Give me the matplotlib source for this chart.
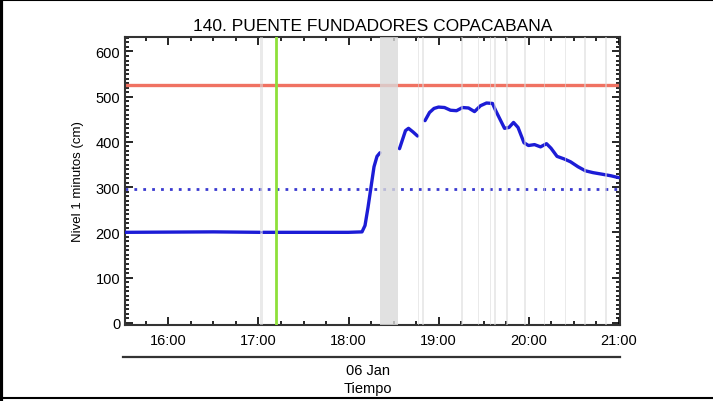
import numpy as np
import matplotlib
matplotlib.use('Agg')
import matplotlib.pyplot as plt
import matplotlib.dates as mdates
from matplotlib.ticker import MultipleLocator
from matplotlib.lines import Line2D
import pandas as pd

plt.rcParams['font.family'] = ['Liberation Sans', 'DejaVu Sans']

# datos (NaN = hueco en la serie)
horas = ['15:31', '16:30', '17:01', None, '17:03', '17:30', '18:00', '18:09', '18:11', '18:13',
         '18:15', '18:17', '18:19', '18:21', None, '18:34', '18:36', '18:38', '18:40', '18:43',
         '18:46', None, '18:51', '18:54', '18:57', '19:00', '19:04', '19:08', '19:12', '19:16',
         '19:20', '19:24', '19:28', '19:32', '19:36', '19:38', '19:41', '19:44', '19:47', '19:50',
         '19:53', '19:57', '20:00', '20:04', '20:08', '20:12', '20:15', '20:19', '20:24', '20:28',
         '20:33', '20:38', '20:43', '20:50', '20:55', '21:00']
nivel = [200, 201, 200, np.nan, 200, 200, 200, 201, 215, 255,
         300, 345, 368, 376, np.nan, 385, 405, 425, 430, 422,
         413, np.nan, 447, 465, 474, 477, 476, 470, 469, 476,
         475, 467, 480, 486, 485, 470, 450, 430, 432, 443,
         432, 398, 392, 394, 389, 396, 386, 368, 362, 356,
         345, 336, 332, 328, 325, 321]

umbral_rojo = 525
umbral_azul = 295
hora_verde = '17:12'
# franjas grises (sin dato)
franjas = [('17:01', '17:03'), ('18:21', '18:33'), ('18:46', '18:47'), ('18:49', '18:50'),
           ('19:15', '19:16'), ('19:26', '19:27'), ('19:34', '19:35'), ('19:37', '19:38'),
           ('19:45', '19:46'), ('19:57', '19:58'), ('20:10', '20:11'), ('20:24', '20:25'),
           ('20:37', '20:38'), ('20:51', '20:52')]

dia = '2024-01-06 '
def t(h):
    return pd.Timestamp(dia + h)

x = [t(h) if h is not None else t('17:02') for h in horas]
y = np.array(nivel, dtype=float)

fig = plt.figure(figsize=(7.13, 4.02), dpi=100)
ax = fig.add_axes([0.1753, 0.189, 0.6943, 0.7165])

ax.axhline(umbral_rojo, color='#f07262', lw=2.4, zorder=2)
ax.axhline(umbral_azul, color='#3a3ad0', lw=2.0, ls=(0, (1, 2.2)), zorder=2)
ax.plot(x, y, color='#1c1cd6', lw=2.4, solid_capstyle='round', zorder=3)
for a, b in franjas:
    ancho = (t(b) - t(a)).seconds > 300
    ax.axvspan(t(a), t(b), color='#dadada', alpha=0.8 if ancho else 0.55, lw=0, zorder=4)
ax.axvline(t(hora_verde), color='#8ee03a', lw=2.0, zorder=5)

ax.set_xlim(t('15:31'), t('21:01'))
ax.set_ylim(-5, 632)

ax.xaxis.set_major_locator(mdates.HourLocator())
ax.xaxis.set_minor_locator(mdates.MinuteLocator(byminute=[15, 30, 45]))
ax.xaxis.set_major_formatter(mdates.DateFormatter('%H:%M'))
ax.yaxis.set_major_locator(MultipleLocator(100))
ax.yaxis.set_minor_locator(MultipleLocator(10))
ax.tick_params(which='both', direction='in', top=True, right=True, labelsize=10.5, width=1.2)
ax.tick_params(which='major', length=6)
ax.tick_params(which='minor', length=3)
ax.tick_params(axis='x', pad=6)
for s in ax.spines.values():
    s.set_linewidth(1.5)
    s.set_color('#333333')

ax.set_title('140. PUENTE FUNDADORES COPACABANA', fontsize=12.5, pad=5)
ax.set_ylabel('Nivel 1 minutos (cm)', fontsize=9.5, labelpad=8)

# segundo eje inferior
ax.add_line(Line2D([-0.005, 1.0], [-0.111, -0.111], transform=ax.transAxes,
                   color='#333333', lw=1.6, clip_on=False))
ax.text(0.49, -0.157, '06 Jan', transform=ax.transAxes, ha='center', va='center', fontsize=10.5)
ax.text(0.49, -0.217, 'Tiempo', transform=ax.transAxes, ha='center', va='center', fontsize=10.5)

# marco
fig.add_artist(Line2D([0.002, 0.002], [0, 1], transform=fig.transFigure, color='black', lw=3))
fig.add_artist(Line2D([0, 1], [0.998, 0.998], transform=fig.transFigure, color='black', lw=1.5))
fig.add_artist(Line2D([0, 1], [0.007, 0.007], transform=fig.transFigure, color='black', lw=1.5))

fig.savefig('out.png', dpi=100)
